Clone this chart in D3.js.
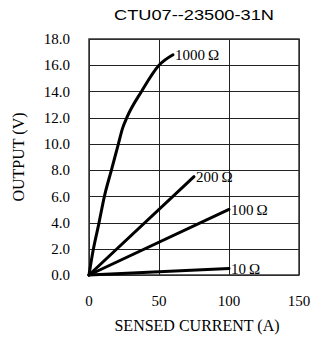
<!DOCTYPE html>
<html>
<head>
<meta charset="utf-8">
<script src="https://cdn.jsdelivr.net/npm/d3@7"></script>
<style>
  body { margin: 0; background: #fff; }
</style>
</head>
<body>
<div id="chart"></div>
<script>
// values
var xTicks = [0, 50, 100, 150];
var yTicks = [0, 2, 4, 6, 8, 10, 12, 14, 16, 18];
var curve1000 = [[0, 0], [3, 1.9], [7, 3.9], [11, 6], [16, 8], [21, 10], [24, 11.2], [27, 12], [37.5, 14], [50, 16], [60, 16.8]];
var curve200 = [[0, 0], [75, 7.5]];
var curve100 = [[0, 0], [100, 5.0]];
var curve10 = [[0, 0], [100, 0.5]];
var seriesNames = ["1000\u2009\u03A9", "200\u2009\u03A9", "100\u2009\u03A9", "10\u2009\u03A9"];
var seriesData = [curve1000, curve200, curve100, curve10];

var width = 312, height = 342;
var margin = { top: 39, right: 13, bottom: 67, left: 89 };

var svg = d3.select("#chart")
  .append("svg")
  .attr("width", width)
  .attr("height", height);

var x = d3.scaleLinear().domain([0, 150]).range([margin.left, width - margin.right]);
var y = d3.scaleLinear().domain([0, 18]).range([height - margin.bottom, margin.top]);

// grid lines
svg.append("g")
  .selectAll("line.h")
  .data(yTicks)
  .enter().append("line")
  .attr("x1", x(0)).attr("x2", x(150))
  .attr("y1", function(d) { return Math.round(y(d)) + 0.5; })
  .attr("y2", function(d) { return Math.round(y(d)) + 0.5; })
  .attr("stroke", "#222")
  .attr("stroke-width", 1);

svg.append("g")
  .selectAll("line.v")
  .data(xTicks)
  .enter().append("line")
  .attr("y1", y(0)).attr("y2", y(18))
  .attr("x1", function(d) { return Math.round(x(d)) + 0.5; })
  .attr("x2", function(d) { return Math.round(x(d)) + 0.5; })
  .attr("stroke", "#222")
  .attr("stroke-width", 1);

// axis frame
svg.append("rect")
  .attr("x", x(0)).attr("y", y(18))
  .attr("width", x(150) - x(0)).attr("height", y(0) - y(18))
  .attr("fill", "none")
  .attr("stroke", "#333")
  .attr("stroke-width", 1.5);

// tick labels
var serif = "'Liberation Serif', 'Times New Roman', serif";
svg.append("g")
  .selectAll("text")
  .data(yTicks)
  .enter().append("text")
  .attr("x", x(0) - 19)
  .attr("y", function(d) { return y(d); })
  .attr("dy", "0.35em")
  .attr("text-anchor", "end")
  .attr("font-family", serif)
  .attr("font-size", 15)
  .text(function(d) { return d.toFixed(1); });

svg.append("g")
  .selectAll("text")
  .data(xTicks)
  .enter().append("text")
  .attr("x", function(d) { return x(d); })
  .attr("y", y(0) + 31)
  .attr("text-anchor", "middle")
  .attr("font-family", serif)
  .attr("font-size", 15)
  .text(function(d) { return d; });

// axis titles
svg.append("text")
  .attr("x", 197)
  .attr("y", y(0) + 56)
  .attr("text-anchor", "middle")
  .attr("font-family", serif)
  .attr("font-size", 16)
  .text("SENSED CURRENT (A)");

svg.append("text")
  .attr("transform", "translate(24," + ((y(0) + y(18)) / 2) + ") rotate(-90)")
  .attr("text-anchor", "middle")
  .attr("font-family", serif)
  .attr("font-size", 16)
  .text("OUTPUT (V)");

// chart title
svg.append("text")
  .attr("x", 194)
  .attr("y", 20)
  .attr("text-anchor", "middle")
  .attr("font-family", "'Liberation Sans', Arial, sans-serif")
  .attr("font-size", 15)
  .attr("textLength", 160)
  .attr("lengthAdjust", "spacingAndGlyphs")
  .text("CTU07--23500-31N");

// curves
var line = d3.line()
  .x(function(d) { return x(d[0]); })
  .y(function(d) { return y(d[1]); })
  .curve(d3.curveMonotoneX);

svg.append("g")
  .selectAll("path")
  .data(seriesData)
  .enter().append("path")
  .attr("d", line)
  .attr("fill", "none")
  .attr("stroke", "#000")
  .attr("stroke-width", 3)
  .attr("stroke-linecap", "round")
  .attr("stroke-linejoin", "round");

// end labels
svg.append("g")
  .selectAll("text")
  .data(seriesData)
  .enter().append("text")
  .attr("x", function(d) { return x(d[d.length - 1][0]) + 2; })
  .attr("y", function(d) { return y(d[d.length - 1][1]); })
  .attr("dy", "0.35em")
  .attr("font-family", serif)
  .attr("font-size", 15)
  .text(function(d, i) { return seriesNames[i]; });
</script>
</body>
</html>
